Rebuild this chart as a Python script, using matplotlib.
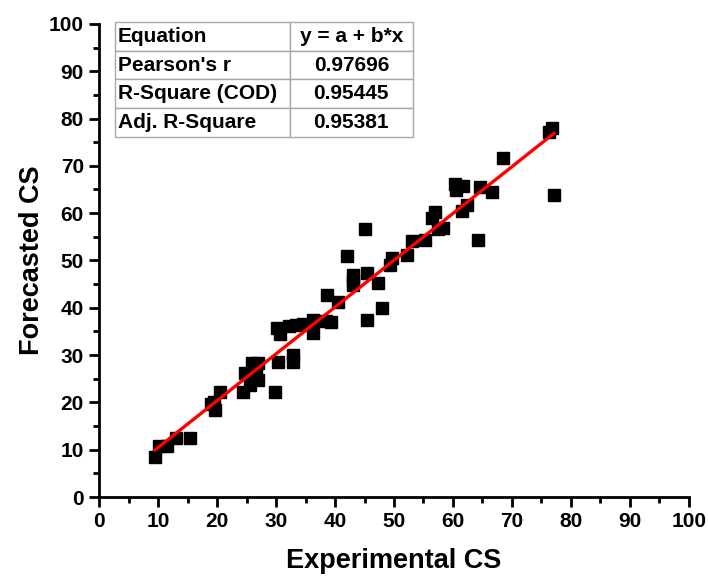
"""Scatter of forecasted vs experimental CS with linear fit and stats table."""

import matplotlib.pyplot as plt
import numpy as np

plt.rcParams["font.family"] = ["Liberation Sans", "DejaVu Sans"]
plt.rcParams["font.weight"] = "bold"

# values
experimental = [
    9.5, 10.2, 11.5, 13.1, 15.4, 19.0, 19.7, 19.5, 20.5, 24.4,
    24.7, 25.6, 25.9, 26.9, 26.9, 26.6, 29.8, 30.3, 32.9, 32.9,
    30.2, 30.7, 32.2, 33.4, 34.6, 35.6, 36.3, 36.3, 39.3, 38.5,
    38.6, 40.5, 42.0, 43.1, 43.1, 43.1, 45.1, 45.4, 45.4, 47.3,
    48.0, 49.3, 49.7, 52.2, 53.1, 55.3, 56.4, 56.9, 58.3, 57.5,
    60.3, 60.5, 61.7, 61.5, 62.4, 64.2, 64.6, 66.6, 68.5, 76.3,
    76.8, 77.1,
]
forecasted = [
    8.4, 10.8, 10.8, 12.5, 12.5, 19.7, 18.4, 20.0, 22.2, 22.2,
    26.2, 23.7, 28.3, 28.3, 24.7, 26.2, 22.2, 28.5, 30.0, 28.5,
    35.7, 34.5, 36.2, 36.4, 36.6, 36.4, 37.4, 34.7, 37.0, 37.2,
    42.7, 41.2, 51.0, 46.9, 44.8, 45.9, 56.7, 47.4, 37.4, 45.2,
    40.0, 49.0, 50.5, 51.2, 54.1, 54.3, 59.0, 60.3, 56.9, 56.7,
    66.2, 64.9, 65.8, 60.5, 61.7, 54.3, 65.5, 64.5, 71.7, 77.2,
    78.0, 63.8,
]

stat_labels = ["Equation", "Pearson's r", "R-Square (COD)", "Adj. R-Square"]
stat_values = ["y = a + b*x", "0.97696", "0.95445", "0.95381"]


def main() -> None:
    x = np.array(experimental)
    y = np.array(forecasted)
    slope, intercept = np.polyfit(x, y, 1)
    fit_x = np.array([x.min(), x.max()])

    fig = plt.figure(figsize=(7.08, 5.83), dpi=100)
    ax = fig.add_axes([0.14, 0.1475, 0.833, 0.8115])

    ax.plot(x, y, "s", color="black", markersize=8.5, zorder=2)
    ax.plot(fit_x, intercept + slope * fit_x, color="#ff0000", linewidth=2.4, zorder=3)

    ax.set_xlim(0, 100)
    ax.set_ylim(0, 100)
    ax.set_xticks(np.arange(0, 101, 10))
    ax.set_yticks(np.arange(0, 101, 10))
    ax.set_xticks(np.arange(5, 100, 10), minor=True)
    ax.set_yticks(np.arange(5, 100, 10), minor=True)
    ax.tick_params(which="major", direction="out", length=7, width=2, labelsize=15, pad=4)
    ax.tick_params(which="minor", direction="out", length=4, width=2)
    for label in ax.get_xticklabels() + ax.get_yticklabels():
        label.set_fontweight("bold")

    for side in ("top", "right"):
        ax.spines[side].set_visible(False)
    for side in ("left", "bottom"):
        ax.spines[side].set_linewidth(2)

    ax.set_xlabel("Experimental CS", fontsize=19.5, fontweight="bold", labelpad=12)
    ax.set_ylabel("Forecasted CS", fontsize=19.5, fontweight="bold", labelpad=3)

    cells = [[lab, val] for lab, val in zip(stat_labels, stat_values)]
    table = ax.table(
        cellText=cells,
        colWidths=[0.587, 0.413],
        bbox=[0.027, 0.761, 0.505, 0.243],
        zorder=4,
    )
    table.auto_set_font_size(False)
    for (row, col), cell in table.get_celld().items():
        cell.set_edgecolor("#a8a8a8")
        cell.set_linewidth(1)
        cell.set_facecolor("white")
        txt = cell.get_text()
        txt.set_fontsize(15)
        txt.set_fontweight("bold")
        if col == 0:
            txt.set_ha("left")
            cell.PAD = 0.015
        else:
            txt.set_ha("center")

    fig.savefig("out.png", dpi=100)
    plt.close(fig)


if __name__ == "__main__":
    main()
